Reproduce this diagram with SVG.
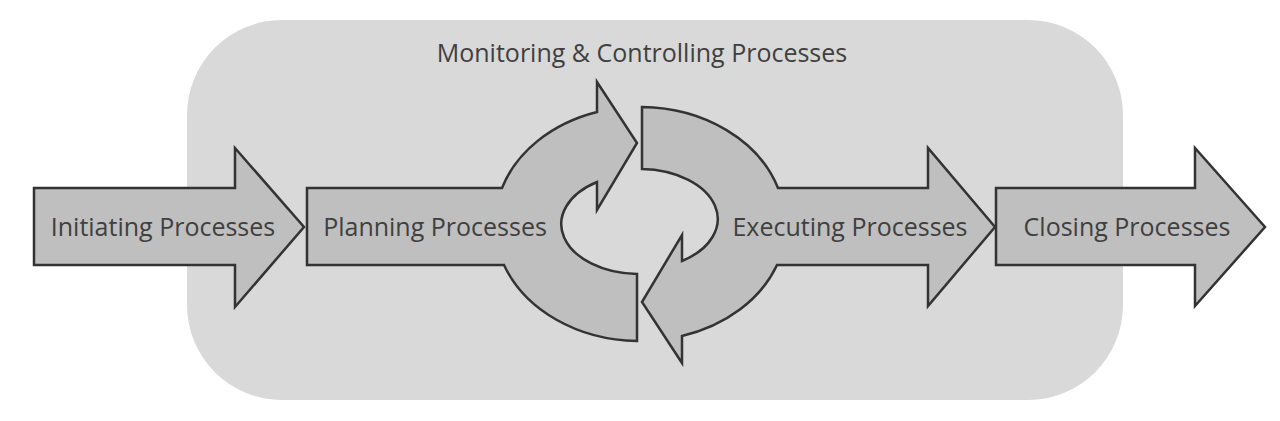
<svg xmlns="http://www.w3.org/2000/svg" width="1280" height="421" viewBox="0 0 1280 421">
<style>
.shape{fill:#bfbfbf;stroke:#333333;stroke-width:2.5;stroke-linejoin:miter}
.lbl{font-family:"Open Sans","Noto Sans","Liberation Sans",sans-serif;font-size:25px;fill:#404040;text-anchor:middle}
</style>
<rect id="monitoring-bg" x="187" y="20" width="936" height="380" rx="95" ry="95" fill="#d9d9d9"/>
<g id="monitoring"><text class="lbl" x="642" y="62">Monitoring &amp; Controlling Processes</text></g>
<g id="connectors"></g>
<g id="initiating">
<path class="shape" d="M34,188 L235,188 L235,148 L304,227 L235,307 L235,265 L34,265 Z"/>
<text class="lbl" x="163" y="236">Initiating Processes</text>
</g>
<g id="planning">
<path class="shape" d="M307,188 L502,188 A145 117 0 0 1 597,112 L597,82 L637,143 L597,210 L597,182 A78 50 0 0 0 637,274 L637,341 A145 117 0 0 1 504,265 L307,265 Z"/>
<text class="lbl" x="435" y="236">Planning Processes</text>
</g>
<g id="executing">
<path class="shape" d="M642,107 A145 117 0 0 1 778,188 L928,188 L928,148 L995,227 L928,306 L928,265 L777,265 A145 117 0 0 1 682,336 L682,363 L642,302 L682,235 L682,261 A78 50 0 0 0 642,169 Z"/>
<text class="lbl" x="850" y="236">Executing Processes</text>
</g>
<g id="closing">
<path class="shape" d="M996,188 L1195,188 L1195,148 L1265,227 L1195,306 L1195,265 L996,265 Z"/>
<text class="lbl" x="1127" y="236">Closing Processes</text>
</g>
</svg>
